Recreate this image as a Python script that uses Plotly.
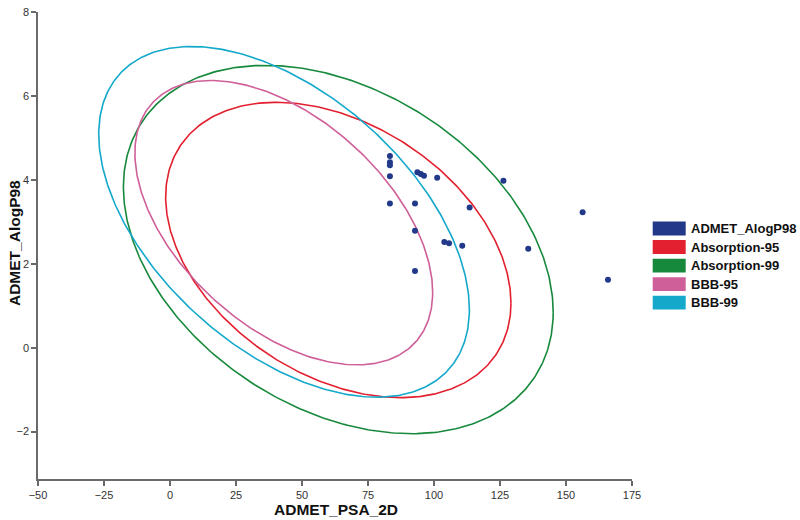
import numpy as np
import plotly.graph_objects as go

# ---- data ----
psa_2d = [83.3, 83.3, 83.3, 83.3, 83.3, 93.7, 95.0, 96.2, 101.2, 92.8,
          113.5, 126.3, 92.8, 103.9, 105.7, 110.7, 135.7, 92.8, 156.3, 165.9]
alogp98 = [4.57, 4.42, 4.35, 4.09, 3.44, 4.18, 4.14, 4.10, 4.05, 3.44,
           3.34, 3.98, 2.79, 2.52, 2.49, 2.43, 2.36, 1.83, 3.23, 1.62]

ellipse_names = ["Absorption-95", "Absorption-99", "BBB-95", "BBB-99"]
ellipse_cx = [63.75, 63.75, 43.1, 43.2]
ellipse_cy = [2.33, 2.34, 2.98, 3.00]
ellipse_sx = [65.4, 81.4, 56.4, 70.2]
ellipse_sy = [3.52, 4.39, 3.39, 4.18]
ellipse_rho = [-0.36, -0.34, -0.49, -0.50]

x_ticks = [-50, -25, 0, 25, 50, 75, 100, 125, 150, 175]
y_ticks = [-2, 0, 2, 4, 6, 8]

legend_names = ["ADMET_AlogP98", "Absorption-95", "Absorption-99", "BBB-95", "BBB-99"]

# ---- styles ----
dot_color = "#22398A"
ellipse_colors = ["#E3202F", "#17893C", "#CF5F98", "#14A8CB"]
legend_colors = [dot_color] + ellipse_colors

W, H = 800, 520
ML, MR, MT, MB = 38, 168, 6, 41
PW, PH = W - ML - MR, H - MT - MB


def px_to_paper_x(px):
    return (px - ML) / PW


def py_to_paper_y(py):
    return (H - MB - py) / PH


fig = go.Figure()

t = np.linspace(0, 2 * np.pi, 400)
for name, cx, cy, sx, sy, rho, col in zip(ellipse_names, ellipse_cx, ellipse_cy,
                                          ellipse_sx, ellipse_sy, ellipse_rho,
                                          ellipse_colors):
    ex = cx + sx * np.cos(t)
    ey = cy + sy * (rho * np.cos(t) + np.sqrt(1 - rho ** 2) * np.sin(t))
    fig.add_trace(go.Scatter(x=ex, y=ey, mode="lines", name=name,
                             line=dict(color=col, width=1.6),
                             showlegend=False, hoverinfo="skip"))

fig.add_trace(go.Scatter(x=psa_2d, y=alogp98, mode="markers", name="ADMET_AlogP98",
                         marker=dict(color=dot_color, size=6),
                         showlegend=False))

tick_font = dict(family="Liberation Sans Narrow, Liberation Sans, Arial", size=11, color="#333333")
axis_common = dict(showgrid=False, zeroline=False, showline=True, linecolor="#6a6a6a",
                   linewidth=1.5, ticks="outside", ticklen=5, tickcolor="#6a6a6a",
                   tickwidth=1.5, tickfont=tick_font)

fig.update_xaxes(range=[-50, 175], tickvals=x_ticks, **axis_common)
fig.update_yaxes(range=[-3.13, 8.003], tickvals=y_ticks,
                 ticklabeloverflow="allow", **axis_common)

shapes = []
annotations = []
title_font = dict(family="Liberation Sans, Arial", size=15.5, color="#111111")
annotations.append(dict(text="<b>ADMET_PSA_2D</b>", xref="paper", yref="paper",
                        x=px_to_paper_x(336), y=py_to_paper_y(510), showarrow=False,
                        xanchor="center", yanchor="middle", font=title_font))
annotations.append(dict(text="<b>ADMET_AlogP98</b>", xref="paper", yref="paper",
                        x=px_to_paper_x(14), y=py_to_paper_y(240), showarrow=False,
                        textangle=-90, xanchor="center", yanchor="middle", font=title_font))

row_top = 218.3
row_step = 18.75
for i, (nm, col) in enumerate(zip(legend_names, legend_colors)):
    y0 = row_top + i * row_step
    y1 = y0 + 14
    shapes.append(dict(type="rect", xref="paper", yref="paper",
                       x0=px_to_paper_x(652.7), x1=px_to_paper_x(685.7),
                       y0=py_to_paper_y(y1), y1=py_to_paper_y(y0),
                       fillcolor=col, line=dict(width=0)))
    annotations.append(dict(text="<b>" + nm + "</b>", xref="paper", yref="paper",
                            x=px_to_paper_x(688.5), y=py_to_paper_y((y0 + y1) / 2),
                            showarrow=False, xanchor="left", yanchor="middle",
                            font=dict(family="Liberation Sans, Arial", size=13, color="#111111")))

fig.update_layout(width=W, height=H, margin=dict(l=ML, r=MR, t=MT, b=MB),
                  paper_bgcolor="white", plot_bgcolor="white",
                  shapes=shapes, annotations=annotations, showlegend=False)

fig.write_html("out.html", config={"displayModeBar": False},
               post_script="document.body.style.margin='0';")
